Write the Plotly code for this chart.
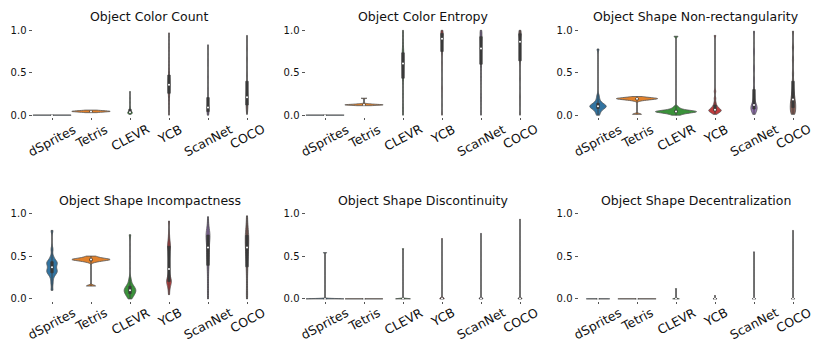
import numpy as np
import plotly.graph_objects as go

datasets = ["dSprites", "Tetris", "CLEVR", "YCB", "ScanNet", "COCO"]
titles = [
    "Object Color Count",
    "Object Color Entropy",
    "Object Shape Non-rectangularity",
    "Object Shape Incompactness",
    "Object Shape Discontinuity",
    "Object Shape Decentralization",
]

# sample values, one list per dataset (same order as datasets)
color_count = [
    [0.0, 0.0, 0.0, 0.0, 0.001, 0.002],
    [0.03, 0.035, 0.04, 0.04, 0.042, 0.045, 0.045, 0.045, 0.048, 0.05, 0.05, 0.055, 0.06],
    [0.01, 0.015, 0.02, 0.02, 0.025, 0.025, 0.03, 0.03, 0.03, 0.035, 0.035, 0.04, 0.045,
     0.05, 0.06, 0.08, 0.1, 0.15, 0.2, 0.28],
    [0.0, 0.08, 0.16, 0.22, 0.25, 0.28, 0.3, 0.32, 0.34, 0.36, 0.38, 0.4, 0.42, 0.45,
     0.48, 0.55, 0.65, 0.8, 0.97],
    [0.0, 0.01, 0.02, 0.03, 0.04, 0.05, 0.06, 0.07, 0.08, 0.09, 0.1, 0.12, 0.14, 0.17,
     0.22, 0.3, 0.45, 0.62, 0.83],
    [0.01, 0.05, 0.08, 0.1, 0.12, 0.14, 0.16, 0.18, 0.2, 0.22, 0.25, 0.28, 0.32, 0.4,
     0.5, 0.65, 0.8, 0.94],
]
color_entropy = [
    [0.0, 0.0, 0.0, 0.001, 0.002],
    [0.112, 0.115, 0.118, 0.12, 0.12, 0.122, 0.122, 0.125, 0.125, 0.128, 0.13, 0.135, 0.2],
    [0.0, 0.1, 0.25, 0.4, 0.47, 0.5, 0.55, 0.6, 0.62, 0.65, 0.68, 0.72, 0.75, 0.8, 0.9, 1.0],
    [0.0, 0.3, 0.6, 0.72, 0.76, 0.8, 0.84, 0.87, 0.9, 0.92, 0.94, 0.95, 0.96, 0.97, 0.98,
     0.99, 1.0],
    [0.0, 0.2, 0.45, 0.58, 0.62, 0.67, 0.72, 0.77, 0.8, 0.84, 0.88, 0.91, 0.94, 0.96, 0.98, 1.0],
    [0.0, 0.2, 0.45, 0.6, 0.64, 0.7, 0.75, 0.8, 0.85, 0.88, 0.91, 0.94, 0.95, 0.96, 0.97,
     0.98, 0.99, 1.0],
]
non_rect = [
    [0.0, 0.03, 0.05, 0.07, 0.08, 0.09, 0.1, 0.1, 0.1, 0.11, 0.11, 0.12, 0.13, 0.14, 0.16,
     0.19, 0.23, 0.78],
    [0.01, 0.01, 0.17, 0.18, 0.185, 0.19, 0.19, 0.19, 0.195, 0.195, 0.2, 0.2, 0.2, 0.205,
     0.21, 0.22],
    [0.0, 0.01, 0.02, 0.025, 0.03, 0.035, 0.035, 0.04, 0.04, 0.04, 0.045, 0.045, 0.05, 0.05,
     0.055, 0.06, 0.07, 0.08, 0.1, 0.93],
    [0.01, 0.03, 0.04, 0.045, 0.05, 0.05, 0.055, 0.06, 0.06, 0.07, 0.08, 0.09, 0.1, 0.12,
     0.15, 0.2, 0.28, 0.94],
    [0.01, 0.03, 0.05, 0.06, 0.07, 0.08, 0.09, 0.1, 0.11, 0.12, 0.14, 0.16, 0.2, 0.25, 0.32,
     0.42, 0.55, 0.75, 0.99],
    [0.01, 0.03, 0.05, 0.07, 0.09, 0.11, 0.13, 0.15, 0.17, 0.2, 0.23, 0.27, 0.32, 0.4, 0.5,
     0.65, 0.8, 0.99],
]
incompact = [
    [0.1, 0.18, 0.24, 0.28, 0.3, 0.31, 0.32, 0.33, 0.34, 0.36, 0.38, 0.4, 0.41, 0.42, 0.43,
     0.44, 0.46, 0.5, 0.58, 0.8],
    [0.15, 0.15, 0.43, 0.44, 0.45, 0.45, 0.455, 0.46, 0.46, 0.46, 0.465, 0.47, 0.47, 0.48,
     0.49, 0.5],
    [0.0, 0.02, 0.04, 0.05, 0.06, 0.07, 0.08, 0.09, 0.1, 0.1, 0.11, 0.12, 0.13, 0.14, 0.15,
     0.17, 0.2, 0.24, 0.75],
    [0.05, 0.12, 0.16, 0.18, 0.2, 0.21, 0.22, 0.24, 0.28, 0.35, 0.42, 0.5, 0.55, 0.6, 0.62,
     0.64, 0.68, 0.75, 0.91],
    [0.0, 0.1, 0.2, 0.3, 0.38, 0.43, 0.48, 0.52, 0.56, 0.6, 0.64, 0.68, 0.71, 0.73, 0.75,
     0.77, 0.8, 0.85, 0.96],
    [0.0, 0.08, 0.18, 0.28, 0.36, 0.42, 0.48, 0.52, 0.56, 0.6, 0.63, 0.66, 0.69, 0.72, 0.75,
     0.78, 0.82, 0.88, 0.97],
]
discontinuity = [
    [0.0, 0.0, 0.0, 0.0, 0.0, 0.0, 0.0, 0.0, 0.001, 0.002, 0.003, 0.54],
    [0.0, 0.0, 0.0, 0.0, 0.001, 0.002],
    [0.0, 0.0, 0.0, 0.0, 0.0, 0.001, 0.002, 0.004, 0.008, 0.585],
    [0.0, 0.0, 0.0, 0.001, 0.003, 0.006, 0.01, 0.015, 0.02, 0.705],
    [0.0, 0.0, 0.001, 0.003, 0.006, 0.01, 0.015, 0.765],
    [0.0, 0.0, 0.001, 0.003, 0.006, 0.01, 0.015, 0.93],
]
decentral = [
    [0.0, 0.0, 0.0, 0.0, 0.001, 0.002],
    [0.0, 0.0, 0.0, 0.0, 0.001, 0.002],
    [0.0, 0.0, 0.0, 0.001, 0.002, 0.004, 0.008, 0.12],
    [0.0, 0.0, 0.001, 0.002, 0.004, 0.04],
    [0.0, 0.0, 0.001, 0.002, 0.004, 0.55],
    [0.0, 0.0, 0.001, 0.002, 0.004, 0.8],
]
metrics = [color_count, color_entropy, non_rect, incompact, discontinuity, decentral]

# styling: violin widths (category units) and kde bandwidths per panel
widths = [
    [0.98, 0.98, 0.12, 0.05, 0.05, 0.05],
    [0.98, 0.98, 0.05, 0.06, 0.05, 0.06],
    [0.42, 1.05, 1.05, 0.32, 0.16, 0.14],
    [0.27, 0.98, 0.3, 0.12, 0.1, 0.09],
    [0.97, 0.97, 0.38, 0.12, 0.1, 0.1],
    [0.6, 0.98, 0.17, 0.1, 0.08, 0.08],
]
bandwidths = [
    [0.003, 0.006, 0.012, 0.05, 0.03, 0.04],
    [0.003, 0.004, 0.05, 0.04, 0.05, 0.04],
    [0.025, 0.01, 0.012, 0.02, 0.03, 0.04],
    [0.03, 0.012, 0.03, 0.04, 0.06, 0.06],
    [0.004, 0.003, 0.004, 0.006, 0.006, 0.006],
    [0.003, 0.003, 0.003, 0.003, 0.003, 0.003],
]
colors = ["#3274a1", "#e1812c", "#3a923a", "#c03d3e", "#9372b2", "#845b53"]
edge = "#555555"
box_col = "#3a3a3a"

W, H = 830, 358
OFF = 8  # page body margin shifts the figure by 8px
x_px = [(32.5, 266.5), (305.5, 539.5), (578.5, 812.5)]
y_px = [(25.1, 116.0), (211.7, 303.4)]
title_y = [14.0, 201.5]
label_top = [118.0, 305.0]

fig = go.Figure()
layout = dict(
    width=W, height=H,
    margin=dict(l=0, r=0, t=0, b=0),
    paper_bgcolor="white", plot_bgcolor="white",
    showlegend=False,
    font=dict(family="DejaVu Sans", color="#111"),
    violinmode="overlay", boxmode="overlay",
)
annotations = []

for k, (title, metric) in enumerate(zip(titles, metrics)):
    row, col = divmod(k, 3)
    sfx = "" if k == 0 else str(k + 1)
    xd = [(x_px[col][0] - OFF) / W, (x_px[col][1] - OFF) / W]
    yd = [1 - (y_px[row][1] - OFF) / H, 1 - (y_px[row][0] - OFF) / H]

    for j, (name, vals) in enumerate(zip(datasets, metric)):
        fig.add_trace(go.Violin(
            x=[name] * len(vals), y=vals, xaxis="x" + sfx, yaxis="y" + sfx,
            fillcolor=colors[j], line=dict(color=edge, width=0.8),
            width=widths[k][j], bandwidth=bandwidths[k][j],
            scalemode="width", spanmode="hard", points=False,
            box_visible=False, meanline_visible=False, opacity=1,
        ))
        fig.add_trace(go.Box(
            x=[name] * len(vals), y=vals, xaxis="x" + sfx, yaxis="y" + sfx,
            width=0.06, boxpoints=False, whiskerwidth=0,
            fillcolor=box_col, line=dict(color=box_col, width=0.8),
        ))
        fig.add_trace(go.Scatter(
            x=[name], y=[np.median(vals)], xaxis="x" + sfx, yaxis="y" + sfx,
            mode="markers", marker=dict(color="white", size=2),
        ))
        annotations.append(dict(
            x=name, xref="x" + sfx, y=1 - (label_top[row] - OFF) / H, yref="paper",
            text=name, textangle=-28, showarrow=False,
            xanchor="center", yanchor="top", font=dict(size=12.5),
        ))

    annotations.append(dict(
        x=(xd[0] + xd[1]) / 2, xref="paper", y=1 - (title_y[row] - OFF) / H, yref="paper",
        text=title, showarrow=False, xanchor="center", yanchor="middle",
        font=dict(size=12.5),
    ))

    layout["xaxis" + sfx] = dict(
        domain=xd, anchor="y" + sfx, type="category",
        categoryorder="array", categoryarray=datasets, range=[-0.5, 5.5],
        showticklabels=False, ticks="outside", ticklen=2, tickcolor="#555",
        showgrid=False, zeroline=False, showline=False,
    )
    layout["yaxis" + sfx] = dict(
        domain=yd, anchor="x" + sfx, range=[-0.02, 1.03],
        tickvals=[0, 0.5, 1.0], ticktext=["0.0", "0.5", "1.0"],
        ticks="outside", ticklen=3, tickcolor="#555", tickfont=dict(size=10),
        showgrid=False, zeroline=False, showline=False,
    )

layout["annotations"] = annotations
fig.update_layout(**layout)

fig.write_html("out.html")
